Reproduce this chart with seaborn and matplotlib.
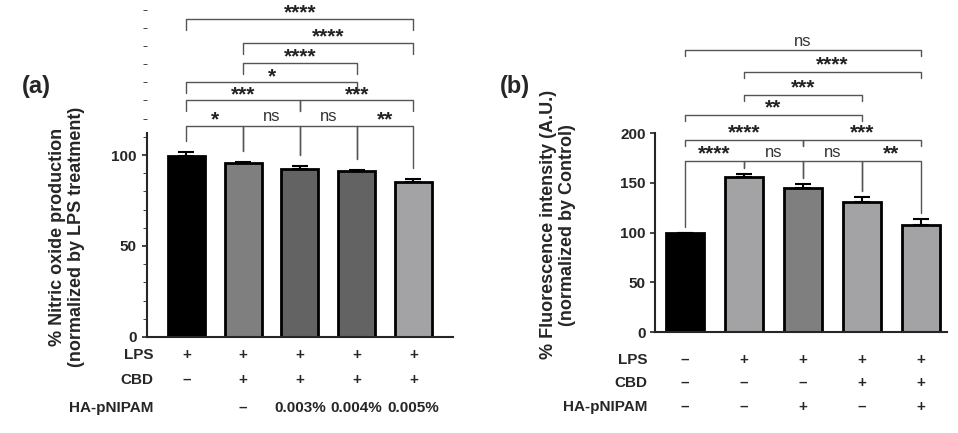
import numpy as np
import pandas as pd
import seaborn as sns
import matplotlib.pyplot as plt
from matplotlib.ticker import MultipleLocator

# panel (a) data
a_groups = ["g1", "g2", "g3", "g4", "g5"]
a_means = [99.5, 95.5, 92.5, 91.0, 85.0]
a_errs = [2.0, 0.5, 1.5, 1.0, 2.0]
a_colors = ["#000000", "#7f7f7f", "#636363", "#636363", "#a2a2a6"]
a_rows = {"LPS": ["+", "+", "+", "+", "+"],
          "CBD": ["\u2013", "+", "+", "+", "+"],
          "HA-pNIPAM": ["", "\u2013", "0.003%", "0.004%", "0.005%"]}
a_sig = [(0, 1, 116, "*"), (1, 2, 116, "ns"), (2, 3, 116, "ns"), (3, 4, 116, "**"),
         (0, 2, 130, "***"), (2, 4, 130, "***"), (0, 3, 140, "*"),
         (1, 3, 150.5, "****"), (1, 4, 161.5, "****"), (0, 4, 175, "****")]

# panel (b) data
b_groups = ["g1", "g2", "g3", "g4", "g5"]
b_means = [100.0, 155.5, 145.0, 131.0, 108.0]
b_errs = [0.0, 3.0, 4.0, 4.5, 6.0]
b_colors = ["#000000", "#a2a2a6", "#7f7f7f", "#a2a2a6", "#a2a2a6"]
b_rows = {"LPS": ["\u2013", "+", "+", "+", "+"],
          "CBD": ["\u2013", "\u2013", "\u2013", "+", "+"],
          "HA-pNIPAM": ["\u2013", "\u2013", "+", "\u2013", "+"]}
b_sig = [(0, 1, 172, "****"), (1, 2, 172, "ns"), (2, 3, 172, "ns"), (3, 4, 172, "**"),
         (0, 2, 193, "****"), (2, 4, 193, "***"), (0, 3, 218, "**"),
         (1, 3, 238, "***"), (1, 4, 261, "****"), (0, 4, 283, "ns")]

sns.set_style("ticks")
plt.rcParams['font.family'] = ['Liberation Sans', 'DejaVu Sans']


def bracket(ax, x1, x2, y, text, tops, first):
    if first:
        y1 = tops[x1] + 6
        y2 = tops[x2] + 6
    else:
        y1 = y2 = y - 6
    ax.plot([x1, x1, x2, x2], [y1, y, y, y2], color="#555555", lw=1, clip_on=False)
    if text == "ns":
        ax.text((x1 + x2) / 2, y + 1, text, ha="center", va="bottom", fontsize=12, color="#333333")
    else:
        ax.text((x1 + x2) / 2, y - 2, text, ha="center", va="bottom", fontsize=15,
                fontweight="bold", color="#222222")


def panel(ax, groups, means, errs, colors, rows, sig, ymax, spine_top, major, xlim, rowy, labx, ylabel):
    df = pd.DataFrame({"group": groups, "value": means})
    sns.barplot(data=df, x="group", y="value", hue="group", palette=colors, legend=False,
                width=0.65, edgecolor="black", linewidth=2, ax=ax, errorbar=None)
    x = np.arange(len(groups))
    ax.errorbar(x, means, yerr=[np.zeros(len(errs)), errs], fmt="none", ecolor="black",
                elinewidth=1.5, capsize=6, capthick=1.5, zorder=1)
    ax.set_ylim(0, ymax)
    ax.set_xlim(*xlim)
    ax.spines["right"].set_visible(False)
    ax.spines["top"].set_visible(False)
    ax.spines["left"].set_bounds(0, spine_top)
    ax.spines["left"].set_linewidth(1.5)
    ax.spines["bottom"].set_linewidth(1.5)
    ax.yaxis.set_major_locator(MultipleLocator(major))
    ax.set_yticks([t for t in ax.get_yticks() if 0 <= t <= spine_top])
    if major == 50 and spine_top < 150:
        ax.yaxis.set_minor_locator(MultipleLocator(10))
        ax.tick_params(axis="y", which="minor", length=3)
    ax.tick_params(axis="y", labelsize=11, width=1.2)
    for lab in ax.get_yticklabels():
        lab.set_fontweight("bold")
    ax.set_xticks([])
    ax.set_xlabel("")
    ax.set_ylabel(ylabel, fontsize=13, fontweight="bold")
    tops = [m + e for m, e in zip(means, errs)]
    for i, (x1, x2, y, t) in enumerate(sig):
        bracket(ax, x1, x2, y, t, tops, i < 4)
    tr = ax.get_xaxis_transform()
    for (name, vals), yy in zip(rows.items(), rowy):
        ax.text(labx, yy, name, transform=tr, ha="right", va="center", fontsize=11, fontweight="bold")
        for xi, v in zip(x, vals):
            ax.text(xi, yy, v, transform=tr, ha="center", va="center", fontsize=11, fontweight="bold")


fig = plt.figure(figsize=(9.58, 4.33), dpi=100)
ax1 = fig.add_axes([0.153, 0.222, 0.32, 0.766])
ax2 = fig.add_axes([0.684, 0.233, 0.305, 0.709])

panel(ax1, a_groups, a_means, a_errs, a_colors, a_rows, a_sig, 182.4, 112, 50,
      (-0.7, 4.7), [-0.054, -0.13, -0.214], -0.58,
      "% Nitric oxide production\n(normalized by LPS treatment)")
panel(ax2, b_groups, b_means, b_errs, b_colors, b_rows, b_sig, 308.5, 200, 50,
      (-0.5, 4.45), [-0.091, -0.166, -0.244], -0.64,
      "% Fluorescence intensity (A.U.)\n(normalized by Control)")
ax1.yaxis.set_label_coords(-0.2, 0.3)
ax2.yaxis.set_label_coords(-0.27, 0.35)

fig.text(0.023, 0.80, "(a)", fontsize=17, fontweight="bold", va="center")
fig.text(0.522, 0.80, "(b)", fontsize=17, fontweight="bold", va="center")

fig.savefig("out.png", dpi=100)
